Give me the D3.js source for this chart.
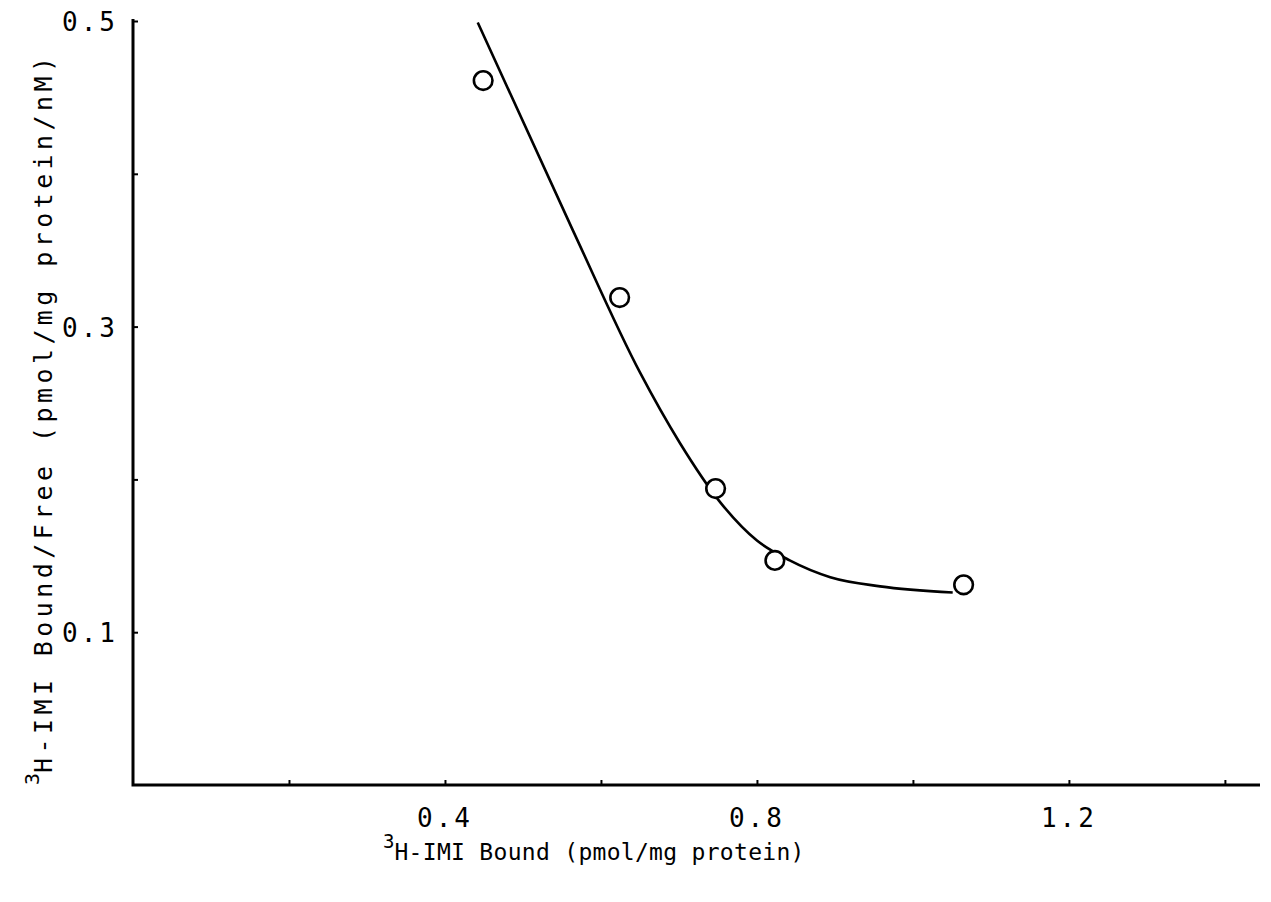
<!DOCTYPE html>
<html>
<head>
<meta charset="utf-8">
<script src="https://cdn.jsdelivr.net/npm/d3@7"></script>
<style>
  html, body { margin: 0; padding: 0; background: #fff; }
  svg { display: block; }
  text { font-family: "DejaVu Sans Mono", "Liberation Mono", monospace; fill: #000; }
</style>
</head>
<body>
<svg id="chart" width="1271" height="902"></svg>
<script>
// Scatchard plot of 3H-IMI binding
const boundValues = [0.449, 0.624, 0.747, 0.823, 1.065];
const boundFreeValues = [0.461, 0.319, 0.194, 0.147, 0.131];

// Fitted curve
const fitBound = [0.442, 0.564, 0.650, 0.701, 0.753, 0.800, 0.842, 0.894, 0.958, 1.051];
const fitBoundFree = [0.499, 0.363, 0.270, 0.224, 0.185, 0.160, 0.147, 0.136, 0.130, 0.126];

const xTickLabels = [0.4, 0.8, 1.2];
const xTickMarks = [0.2, 0.4, 0.6, 0.8, 1.0, 1.2, 1.4];
const yTickLabels = [0.1, 0.3, 0.5];
const yTickMarks = [0.1, 0.2, 0.3, 0.4, 0.5];

const svg = d3.select("#chart");
const plotLeft = 133, plotRight = 1260, plotTop = 21, plotBottom = 785;

const x = d3.scaleLinear().domain([0, 1.445]).range([plotLeft, plotRight]);
const y = d3.scaleLinear().domain([0, 0.5]).range([plotBottom, plotTop]);

// Axes: ticks point into the plot area
const xAxis = d3.axisTop(x).tickValues(xTickMarks).tickSize(5).tickFormat("");
const yAxis = d3.axisRight(y).tickValues(yTickMarks).tickSize(5).tickFormat("");

svg.append("g").attr("transform", `translate(0,${plotBottom})`).call(xAxis)
  .call(g => g.select(".domain").remove())
  .call(g => g.selectAll("line").attr("stroke", "#000").attr("stroke-width", 2));
svg.append("g").attr("transform", `translate(${plotLeft},0)`).call(yAxis)
  .call(g => g.select(".domain").remove())
  .call(g => g.selectAll("line").attr("stroke", "#000").attr("stroke-width", 2));

// Axis lines
svg.append("path")
  .attr("d", `M${x(0)},${y(0.5) - 2}V${y(0)}H${plotRight}`)
  .attr("fill", "none").attr("stroke", "#000").attr("stroke-width", 3);

// Tick labels
svg.selectAll(".xlab").data(xTickLabels).join("text")
  .attr("class", "xlab")
  .attr("x", d => x(d))
  .attr("y", 827)
  .attr("text-anchor", "middle")
  .attr("font-size", 26)
  .attr("letter-spacing", 3)
  .text(d => d.toFixed(1));

svg.selectAll(".ylab").data(yTickLabels).join("text")
  .attr("class", "ylab")
  .attr("x", 118)
  .attr("y", d => y(d) + 10)
  .attr("text-anchor", "end")
  .attr("font-size", 26)
  .attr("letter-spacing", 3)
  .text(d => d.toFixed(1));

// X axis title with superscript 3
const xt = svg.append("text").attr("x", 383).attr("y", 860).attr("font-size", 23);
xt.append("tspan").attr("dy", -12).attr("font-size", 19).text("3");
xt.append("tspan").attr("dy", 12).attr("textLength", 410).attr("lengthAdjust", "spacing")
  .text("H-IMI Bound (pmol/mg protein)");

// Y axis title, rotated
const yt = svg.append("text")
  .attr("transform", "translate(52,785) rotate(-90)")
  .attr("font-size", 25);
yt.append("tspan").attr("dy", -13).attr("font-size", 20).text("3");
yt.append("tspan").attr("dy", 13).attr("textLength", 716).attr("lengthAdjust", "spacing")
  .text("H-IMI Bound/Free (pmol/mg protein/nM)");

// Fitted curve
const fit = fitBound.map((b, i) => [b, fitBoundFree[i]]);
svg.append("path")
  .datum(fit)
  .attr("fill", "none")
  .attr("stroke", "#000")
  .attr("stroke-width", 2.6)
  .attr("d", d3.line().x(d => x(d[0])).y(d => y(d[1])).curve(d3.curveMonotoneX));

// Data points
const pts = boundValues.map((b, i) => [b, boundFreeValues[i]]);
svg.selectAll(".pt").data(pts).join("circle")
  .attr("class", "pt")
  .attr("cx", d => x(d[0]))
  .attr("cy", d => y(d[1]))
  .attr("r", 9.3)
  .attr("fill", "#fff")
  .attr("stroke", "#000")
  .attr("stroke-width", 2.6);
</script>
</body>
</html>
